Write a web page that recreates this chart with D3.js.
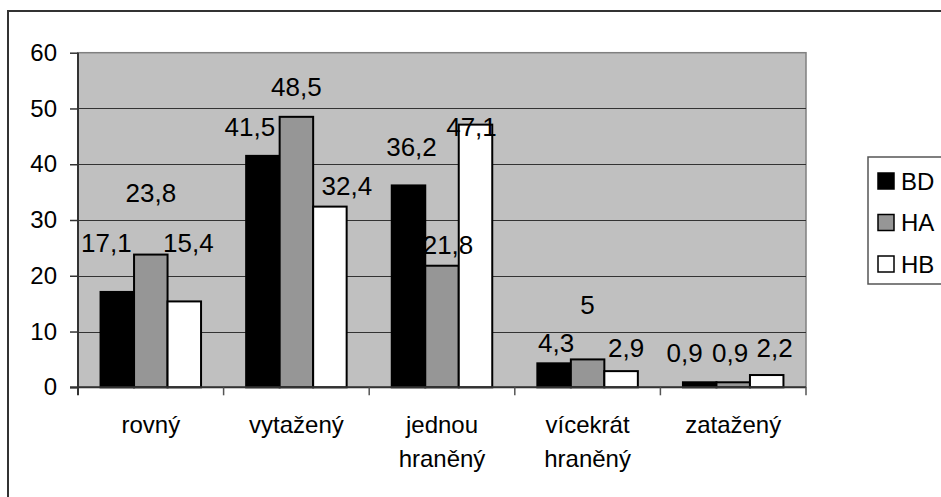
<!DOCTYPE html>
<html>
<head>
<meta charset="utf-8">
<script src="https://cdn.jsdelivr.net/npm/d3@7"></script>
<style>
  body { margin: 0; background: #fff; }
  svg text { font-family: "Liberation Sans", Arial, sans-serif; fill: #000; }
</style>
</head>
<body>
<div id="chart"></div>
<script>
// categories and series
var categories = ["rovný", "vytažený", "jednou hraněný", "vícekrát hraněný", "zatažený"];
var series = ["BD", "HA", "HB"];
var bdValues = [17.1, 41.5, 36.2, 4.3, 0.9];
var haValues = [23.8, 48.5, 21.8, 5, 0.9];
var hbValues = [15.4, 32.4, 47.1, 2.9, 2.2];
var yTicks = [0, 10, 20, 30, 40, 50, 60];

// where the data labels sit (moved by hand in the original):
// height in axis units, sideways nudge in px
var bdLabelAt = [25.9, 46.7, 43.1, 8.0, 6.1];
var haLabelAt = [34.9, 53.8, 25.5, 14.8, 6.1];
var hbLabelAt = [25.9, 36.1, 46.7, 7.1, 7.1];
var bdLabelDx = [-11, -13, 3, 2, -15];
var haLabelDx = [0, 0, 6, 0, -3];
var hbLabelDx = [4, 17, -4, 5, 8];

var seriesValues = { BD: bdValues, HA: haValues, HB: hbValues };
var seriesLabelAt = { BD: bdLabelAt, HA: haLabelAt, HB: hbLabelAt };
var seriesLabelDx = { BD: bdLabelDx, HA: haLabelDx, HB: hbLabelDx };
var seriesColor = { BD: "#000000", HA: "#969696", HB: "#ffffff" };

var width = 941, height = 497;
var plot = { left: 78, right: 806, top: 52.7, bottom: 387.3 };

var svg = d3.select("#chart").append("svg")
  .attr("width", width)
  .attr("height", height);

// outer chart border (runs off the right and bottom of the picture)
svg.append("rect")
  .attr("x", 8).attr("y", 11)
  .attr("width", 1000).attr("height", 600)
  .attr("fill", "#fff")
  .attr("stroke", "#333")
  .attr("stroke-width", 2);

var x = d3.scaleBand()
  .domain(categories)
  .range([plot.left, plot.right]);

var groupWidth = 100.5;
var xs = d3.scaleBand()
  .domain(series)
  .range([0, groupWidth]);
var groupOffset = (x.bandwidth() - groupWidth) / 2;

var y = d3.scaleLinear()
  .domain([0, 60])
  .range([plot.bottom, plot.top]);

// plot area
svg.append("rect")
  .attr("x", plot.left).attr("y", plot.top)
  .attr("width", plot.right - plot.left)
  .attr("height", plot.bottom - plot.top)
  .attr("fill", "#c0c0c0")
  .attr("stroke", "#808080")
  .attr("stroke-width", 1.5);

// gridlines
svg.append("g")
  .selectAll("line")
  .data(yTicks.filter(function(d) { return d > 0 && d < 60; }))
  .enter().append("line")
  .attr("x1", plot.left).attr("x2", plot.right)
  .attr("y1", function(d) { return Math.round(y(d)) + 0.5; })
  .attr("y2", function(d) { return Math.round(y(d)) + 0.5; })
  .attr("stroke", "#333")
  .attr("stroke-width", 1);

// bars
series.forEach(function(s) {
  svg.append("g")
    .selectAll("rect")
    .data(seriesValues[s])
    .enter().append("rect")
    .attr("x", function(d, i) { return x(categories[i]) + groupOffset + xs(s); })
    .attr("y", function(d) { return y(d); })
    .attr("width", xs.bandwidth())
    .attr("height", function(d) { return y(0) - y(d); })
    .attr("fill", seriesColor[s])
    .attr("stroke", "#000")
    .attr("stroke-width", 2);
});

// y axis
var yAxis = d3.axisLeft(y)
  .tickValues(yTicks)
  .tickSize(8)
  .tickPadding(13)
  .tickFormat(d3.format("d"));

var gy = svg.append("g")
  .attr("transform", "translate(" + plot.left + ",0)")
  .call(yAxis);
gy.select(".domain").attr("stroke", "#333").attr("stroke-width", 2)
  .attr("d", "M0," + plot.top + "V" + (plot.bottom + 8));
gy.selectAll(".tick line").attr("stroke", "#333").attr("stroke-width", 1.5);
gy.selectAll(".tick text")
  .style("font-size", "24px")
  .attr("fill", "#000");

// x axis
var gx = svg.append("g")
  .attr("transform", "translate(0," + plot.bottom + ")");
gx.append("line")
  .attr("x1", plot.left - 8).attr("x2", plot.right)
  .attr("y1", 0).attr("y2", 0)
  .attr("stroke", "#333").attr("stroke-width", 2);
gx.selectAll(".xtick")
  .data(categories.slice(1).concat(["end"]))
  .enter().append("line")
  .attr("class", "xtick")
  .attr("x1", function(d, i) { return plot.left + x.bandwidth() * (i + 1); })
  .attr("x2", function(d, i) { return plot.left + x.bandwidth() * (i + 1); })
  .attr("y1", 0).attr("y2", 8)
  .attr("stroke", "#555").attr("stroke-width", 1.5);

var catText = gx.selectAll(".cat")
  .data(categories)
  .enter().append("text")
  .attr("class", "cat")
  .attr("text-anchor", "middle")
  .style("font-size", "24px");
catText.each(function(d) {
  var words = d.split(" ");
  var t = d3.select(this);
  words.forEach(function(w, i) {
    t.append("tspan")
      .attr("x", x(d) + x.bandwidth() / 2)
      .attr("y", 46 + i * 34)
      .text(w);
  });
});

// data labels
series.forEach(function(s) {
  svg.append("g")
    .selectAll("text")
    .data(seriesValues[s])
    .enter().append("text")
    .attr("x", function(d, i) {
      return x(categories[i]) + groupOffset + xs(s) + xs.bandwidth() / 2 + seriesLabelDx[s][i];
    })
    .attr("y", function(d, i) { return y(seriesLabelAt[s][i]); })
    .attr("text-anchor", "middle")
    .attr("dominant-baseline", "central")
    .style("font-size", "26px")
    .text(function(d) { return String(d).replace(".", ","); });
});

// legend
var legend = svg.append("g")
  .attr("transform", "translate(868,157)");
legend.append("rect")
  .attr("x", 0).attr("y", 0)
  .attr("width", 200).attr("height", 127)
  .attr("fill", "#fff")
  .attr("stroke", "#555")
  .attr("stroke-width", 1.5);
var item = legend.selectAll(".item")
  .data(series)
  .enter().append("g")
  .attr("class", "item")
  .attr("transform", function(d, i) { return "translate(10," + (16 + i * 41.5) + ")"; });
item.append("rect")
  .attr("width", 16).attr("height", 16)
  .attr("fill", function(d) { return seriesColor[d]; })
  .attr("stroke", "#000")
  .attr("stroke-width", 1.5);
item.append("text")
  .attr("x", 23)
  .attr("y", 8)
  .attr("dominant-baseline", "central")
  .style("font-size", "24px")
  .text(function(d) { return d; });
</script>
</body>
</html>
